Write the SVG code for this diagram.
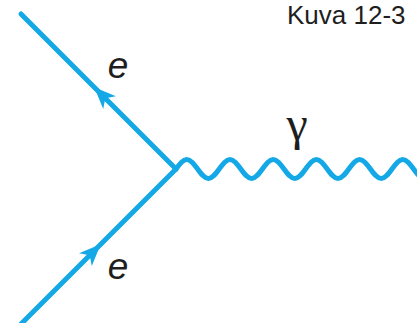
<svg xmlns="http://www.w3.org/2000/svg" width="417" height="323" viewBox="0 0 417 323">
<style>
.fermion{fill:none;stroke:#14a9e6;stroke-width:5;stroke-linecap:round;stroke-linejoin:round;marker-mid:url(#arr)}
.photon{fill:none;stroke:#14a9e6;stroke-width:5;stroke-linecap:round}
.lbl{font-family:"Liberation Sans",Arial,sans-serif;fill:#1e1e1e}
.ital{font-style:italic;font-size:37px}
.gam{font-family:"Liberation Serif","Times New Roman",serif;font-size:48px;fill:#1e1e1e}
.title{font-size:26px}
</style>
<defs>
<marker id="arr" markerUnits="userSpaceOnUse" markerWidth="30" markerHeight="30" refX="0" refY="0" viewBox="-20 -10 25 20" orient="auto" overflow="visible">
<path d="M2,0 L-16,-7.5 L-11,0 L-16,7.5 Z" fill="#14a9e6"/>
</marker>
</defs>
<g id="title"><text class="lbl title" x="287" y="24">Kuva 12-3</text></g>
<g id="connectors">
<polyline id="e-out" class="fermion" points="176,169 96,89 21,14"/>
<polyline id="e-in" class="fermion" points="21,324 99,246 176,169"/>
<path id="photon" class="photon" d="M176,169 c3.52,-4.87 6.89,-9.5 10.8,-9.5 s7.28,4.63 10.8,9.5 s6.89,9.5 10.8,9.5 s7.28,-4.63 10.8,-9.5 s6.89,-9.5 10.8,-9.5 s7.28,4.63 10.8,9.5 s6.89,9.5 10.8,9.5 s7.28,-4.63 10.8,-9.5 s6.89,-9.5 10.8,-9.5 s7.28,4.63 10.8,9.5 s6.89,9.5 10.8,9.5 s7.28,-4.63 10.8,-9.5 s6.89,-9.5 10.8,-9.5 s7.28,4.63 10.8,9.5 s6.89,9.5 10.8,9.5 s7.28,-4.63 10.8,-9.5 s6.89,-9.5 10.8,-9.5 s7.28,4.63 10.8,9.5 s6.89,9.5 10.8,9.5 s7.28,-4.63 10.8,-9.5 s6.89,-9.5 10.8,-9.5 s7.28,4.63 10.8,9.5 s6.89,9.5 10.8,9.5"/>
</g>
<g id="label-e-top"><text class="lbl ital" x="118" y="78" text-anchor="middle">e</text></g>
<g id="label-e-bottom"><text class="lbl ital" x="118" y="279" text-anchor="middle">e</text></g>
<g id="label-gamma"><text class="gam" x="297" y="140" text-anchor="middle">γ</text></g>
</svg>
